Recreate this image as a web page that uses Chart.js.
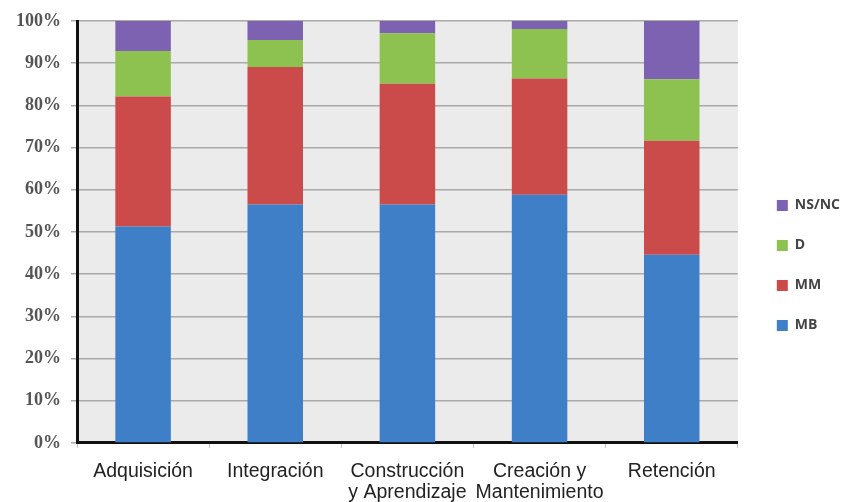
<!DOCTYPE html>
<html>
<head>
<meta charset="utf-8">
<script src="https://cdn.jsdelivr.net/npm/chart.js@4.4.1/dist/chart.umd.min.js"></script>
<style>
  html, body { margin: 0; padding: 0; background: #ffffff; }
  #wrap { width: 843px; height: 502px; position: relative; }
</style>
</head>
<body>
<div id="wrap"><canvas id="c"></canvas></div>
<script>
const categories = ['Adquisición', 'Integración', ['Construcción', 'y Aprendizaje'], ['Creación y', 'Mantenimiento'], 'Retención'];
const seriesNames = ['MB', 'MM', 'D', 'NS/NC'];
const MB   = [51.3, 56.5, 56.5, 58.8, 44.6];
const MM   = [30.8, 32.6, 28.6, 27.6, 27.0];
const D    = [10.8, 6.4, 12.0, 11.7, 14.6];
const NSNC = [7.1, 4.5, 2.9, 1.9, 13.8];
const yTicks = [0, 10, 20, 30, 40, 50, 60, 70, 80, 90, 100];
const colors = ['#3F7FC8', '#CB4A4A', '#8DC251', '#7C62B0'];

const plotBg = {
  id: 'plotBg',
  beforeDraw(chart) {
    const { ctx, chartArea: a } = chart;
    ctx.save();
    ctx.fillStyle = '#ebebeb';
    ctx.fillRect(a.left, a.top, a.right - a.left, a.bottom - a.top);
    ctx.restore();
  }
};

// nudge the library legend box to sit where the original legend sits
const legendNudge = {
  id: 'legendNudge',
  afterLayout(chart) {
    const lg = chart.legend;
    if (!lg) return;
    const dx = 13, dy = -3;
    lg.left += dx; lg.right += dx;
    lg.top += dy; lg.bottom += dy;
  }
};

const values = [MB, MM, D, NSNC];
new Chart(document.getElementById('c'), {
  type: 'bar',
  data: {
    labels: categories,
    datasets: values.map((v, i) => ({
      label: seriesNames[i],
      data: v,
      backgroundColor: colors[i],
      borderWidth: 0,
      categoryPercentage: 1.0,
      barPercentage: 0.42
    }))
  },
  options: {
    responsive: true,
    maintainAspectRatio: false,
    animation: false,
    layout: { padding: { top: 21, left: 6, right: 6, bottom: -14 } },
    scales: {
      x: {
        stacked: true,
        border: { display: true, color: '#111', width: 3 },
        grid: { display: true, drawOnChartArea: false, drawTicks: true, tickLength: 5, color: '#c0c0c0', offset: true },
        ticks: { color: '#222', font: { family: 'Liberation Sans', size: 19.5, lineHeight: 1.08 }, padding: 13, maxRotation: 0, autoSkip: false }
      },
      y: {
        stacked: true,
        min: 0, max: 100,
        afterBuildTicks(axis) { axis.ticks = yTicks.map(v => ({ value: v })); },
        border: { display: true, color: '#111', width: 3 },
        grid: { color: '#a9a9a9', lineWidth: 1.5, drawTicks: true, tickLength: 6 },
        ticks: { color: '#555', font: { family: 'Liberation Serif', size: 18, weight: 'bold' }, padding: 10, callback: v => v + '%' }
      }
    },
    plugins: {
      legend: {
        position: 'right',
        reverse: true,
        labels: {
          boxWidth: 11, boxHeight: 11, padding: 26,
          color: '#444',
          font: { family: 'Open Sans', size: 14, weight: 'bold' }
        }
      },
      tooltip: { enabled: false }
    }
  },
  plugins: [plotBg, legendNudge]
});
</script>
</body>
</html>
